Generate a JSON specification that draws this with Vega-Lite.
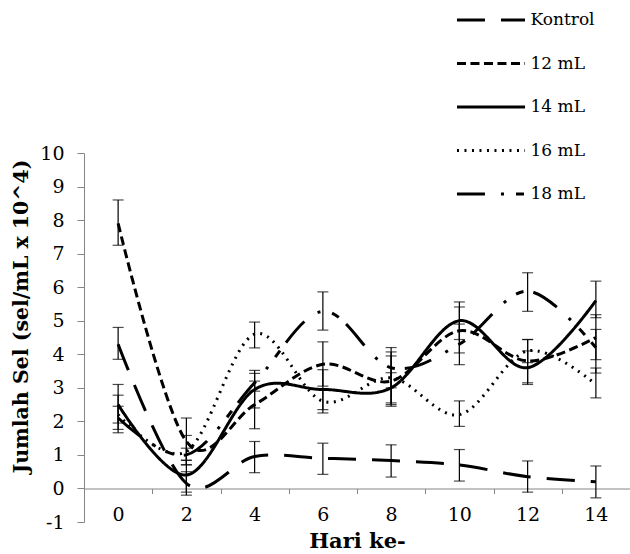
{
  "$schema": "https://vega.github.io/schema/vega-lite/v6.json",
  "width": 546,
  "height": 369,
  "autosize": {"type": "none"},
  "padding": {"left": 84, "top": 153, "right": 0, "bottom": 32},
  "background": "white",
  "config": {
    "view": {"stroke": null},
    "font": "DejaVu Serif"
  },
  "data": {
    "values": [
      {"day": 0, "series": "Kontrol", "value": 4.3, "lo": 3.85, "hi": 4.8},
      {"day": 2, "series": "Kontrol", "value": 0.15, "lo": -0.2, "hi": 0.5},
      {"day": 4, "series": "Kontrol", "value": 0.95, "lo": 0.47, "hi": 1.4},
      {"day": 6, "series": "Kontrol", "value": 0.9, "lo": 0.42, "hi": 1.35},
      {"day": 8, "series": "Kontrol", "value": 0.83, "lo": 0.34, "hi": 1.3},
      {"day": 10, "series": "Kontrol", "value": 0.7, "lo": 0.22, "hi": 1.16},
      {"day": 12, "series": "Kontrol", "value": 0.35, "lo": -0.11, "hi": 0.82},
      {"day": 14, "series": "Kontrol", "value": 0.2, "lo": -0.28, "hi": 0.67},
      {"day": 0, "series": "12 mL", "value": 7.9, "lo": 7.25, "hi": 8.6},
      {"day": 2, "series": "12 mL", "value": 1.4, "lo": 0.7, "hi": 2.1},
      {"day": 4, "series": "12 mL", "value": 2.5, "lo": 1.78, "hi": 3.2},
      {"day": 6, "series": "12 mL", "value": 3.7, "lo": 3.05, "hi": 4.37},
      {"day": 8, "series": "12 mL", "value": 3.2, "lo": 2.45, "hi": 3.95},
      {"day": 10, "series": "12 mL", "value": 4.7, "lo": 4.04, "hi": 5.41},
      {"day": 12, "series": "12 mL", "value": 3.8, "lo": 3.15, "hi": 4.44},
      {"day": 14, "series": "12 mL", "value": 4.5, "lo": 3.84, "hi": 5.18},
      {"day": 0, "series": "14 mL", "value": 2.5, "lo": 1.95, "hi": 3.1},
      {"day": 2, "series": "14 mL", "value": 0.4, "lo": -0.11, "hi": 0.84},
      {"day": 4, "series": "14 mL", "value": 2.95, "lo": 2.4, "hi": 3.52},
      {"day": 6, "series": "14 mL", "value": 2.95, "lo": 2.35, "hi": 3.54},
      {"day": 8, "series": "14 mL", "value": 3.0, "lo": 2.55, "hi": 3.45},
      {"day": 10, "series": "14 mL", "value": 5.0, "lo": 4.44, "hi": 5.56},
      {"day": 12, "series": "14 mL", "value": 3.6, "lo": 3.1, "hi": 4.1},
      {"day": 14, "series": "14 mL", "value": 5.6, "lo": 5.09, "hi": 6.18},
      {"day": 0, "series": "16 mL", "value": 2.2, "lo": 1.66, "hi": 2.78},
      {"day": 2, "series": "16 mL", "value": 1.1, "lo": 0.71, "hi": 1.58},
      {"day": 4, "series": "16 mL", "value": 4.6, "lo": 4.19, "hi": 4.96},
      {"day": 6, "series": "16 mL", "value": 2.6, "lo": 2.25, "hi": 2.95},
      {"day": 8, "series": "16 mL", "value": 3.3, "lo": 2.5, "hi": 4.07},
      {"day": 10, "series": "16 mL", "value": 2.2, "lo": 1.85, "hi": 2.61},
      {"day": 12, "series": "16 mL", "value": 4.1, "lo": 3.75, "hi": 4.44},
      {"day": 14, "series": "16 mL", "value": 3.1, "lo": 2.7, "hi": 3.59},
      {"day": 0, "series": "18 mL", "value": 2.1, "lo": 1.76, "hi": 2.45},
      {"day": 2, "series": "18 mL", "value": 1.0, "lo": 0.84, "hi": 1.2},
      {"day": 4, "series": "18 mL", "value": 3.15, "lo": 2.9, "hi": 3.43},
      {"day": 6, "series": "18 mL", "value": 5.28, "lo": 4.72, "hi": 5.86},
      {"day": 8, "series": "18 mL", "value": 3.6, "lo": 3.0, "hi": 4.2},
      {"day": 10, "series": "18 mL", "value": 4.3, "lo": 3.69, "hi": 4.9},
      {"day": 12, "series": "18 mL", "value": 5.88, "lo": 5.28, "hi": 6.43},
      {"day": 14, "series": "18 mL", "value": 4.2, "lo": 3.44, "hi": 4.74}
    ]
  },
  "encoding": {
    "x": {
      "field": "day",
      "type": "ordinal",
      "scale": {"type": "band", "paddingInner": 0, "paddingOuter": 0},
      "axis": {
        "title": "Hari ke-",
        "titleFont": "DejaVu Serif",
        "titleFontSize": 21,
        "titleFontWeight": "bold",
        "titleColor": "black",
        "titlePadding": 6,
        "labelAngle": 0,
        "labelFont": "DejaVu Serif",
        "labelFontSize": 19,
        "labelColor": "black",
        "labelPadding": 12,
        "tickBand": "extent",
        "tickSize": 5,
        "tickColor": "#868686",
        "domainColor": "#868686",
        "offset": -33.5,
        "grid": false
      }
    },
    "y": {
      "field": "value",
      "type": "quantitative",
      "scale": {"domain": [-1, 10], "nice": false, "zero": false},
      "axis": {
        "title": "Jumlah Sel (sel/mL x 10^4)",
        "titleFont": "DejaVu Serif",
        "titleFontSize": 20.5,
        "titleFontWeight": "bold",
        "titleColor": "black",
        "titlePadding": 8,
        "titleY": 163,
        "values": [-1, 0, 1, 2, 3, 4, 5, 6, 7, 8, 9, 10],
        "labelExpr": "toString(datum.value)",
        "labelOverlap": false,
        "labelBound": false,
        "labelFlush": false,
        "labelFont": "DejaVu Serif",
        "labelFontSize": 19,
        "labelColor": "black",
        "labelPadding": 13,
        "tickSize": 7,
        "tickColor": "#868686",
        "domainColor": "#868686",
        "grid": false
      }
    }
  },
  "layer": [
    {
      "mark": {"type": "line", "interpolate": "cardinal", "strokeWidth": 3, "color": "black"},
      "encoding": {
        "strokeDash": {
          "field": "series",
          "type": "nominal",
          "scale": {
            "domain": ["Kontrol", "12 mL", "14 mL", "16 mL", "18 mL"],
            "range": [[28, 16], [9, 4.5], [1, 0], [2, 5.5], [28, 16, 3, 12, 8, 10]]
          },
          "legend": {
            "title": null,
            "orient": "none",
            "legendX": 373.5,
            "legendY": -166.5,
            "padding": 0,
            "symbolType": "M-1.08,0H1.08",
            "symbolSize": 3970,
            "symbolStrokeWidth": 3,
            "symbolStrokeColor": "black",
            "symbolFillColor": "transparent",
            "labelFont": "DejaVu Serif",
            "labelFontSize": 17,
            "labelColor": "black",
            "labelOffset": 6,
            "rowPadding": 1.5
          }
        }
      }
    },
    {
      "mark": {"type": "rule", "color": "black", "strokeWidth": 1.2},
      "encoding": {
        "y": {"field": "lo", "type": "quantitative"},
        "y2": {"field": "hi"}
      }
    },
    {
      "mark": {"type": "tick", "color": "black", "size": 11, "thickness": 1.2},
      "encoding": {"y": {"field": "lo", "type": "quantitative"}}
    },
    {
      "mark": {"type": "tick", "color": "black", "size": 11, "thickness": 1.2},
      "encoding": {"y": {"field": "hi", "type": "quantitative"}}
    }
  ]
}
